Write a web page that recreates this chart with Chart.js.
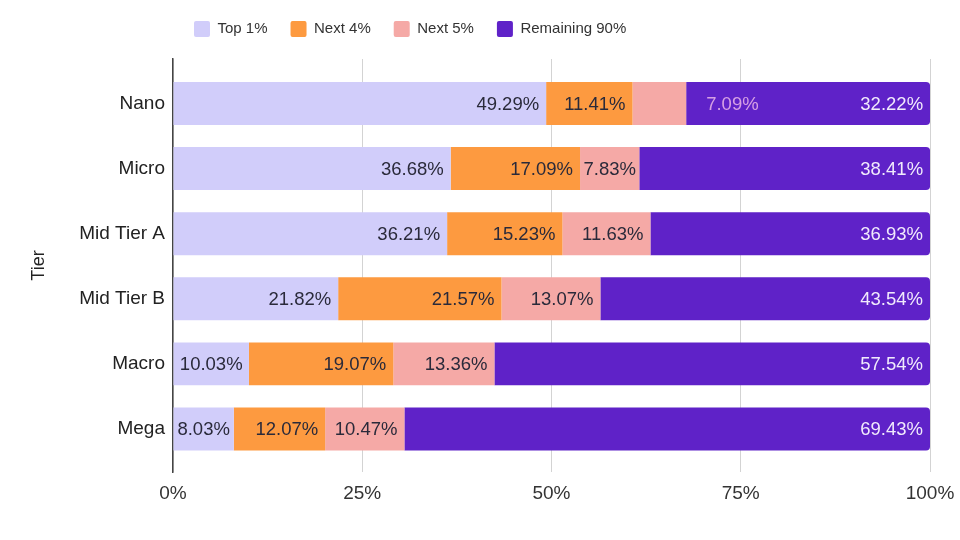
<!DOCTYPE html>
<html>
<head>
<meta charset="utf-8">
<script src="https://cdn.jsdelivr.net/npm/chart.js@4"></script>
<style>
    html, body { margin: 0; padding: 0; background: #fff; }
    #wrap { width: 960px; height: 540px; position: relative; }
</style>
</head>
<body>
<div id="wrap"><canvas id="tier-chart"></canvas></div>
<script>
const tiers = ['Nano', 'Micro', 'Mid Tier A', 'Mid Tier B', 'Macro', 'Mega'];
const seriesNames = ['Top 1%', 'Next 4%', 'Next 5%', 'Remaining 90%'];
const top1 = [49.29, 36.68, 36.21, 21.82, 10.03, 8.03];
const next4 = [11.41, 17.09, 15.23, 21.57, 19.07, 12.07];
const next5 = [7.09, 7.83, 11.63, 13.07, 13.36, 10.47];
const remaining90 = [32.22, 38.41, 36.93, 43.54, 57.54, 69.43];
const xTicks = [0, 25, 50, 75, 100];

const COLORS = ['#d1cdfa', '#fd9a40', '#f5a9a6', '#5f22c8'];
const LABEL_COLORS = ['#2a2a3a', '#2a2a3a', '#2a2a3a', '#f1eafc'];
const OVERFLOW_COLOR = '#d6a0e4';
const FONT = '"Liberation Sans", Arial, sans-serif';

const seriesValues = [top1, next4, next5, remaining90];

// data labels: right aligned inside each segment (centred when tight),
// pushed past the end when the segment is too narrow
const segmentLabels = {
    id: 'segmentLabels',
    afterDatasetsDraw(chart) {
        const ctx = chart.ctx;
        const pad = 7;
        ctx.save();
        ctx.font = '18.5px ' + FONT;
        ctx.textBaseline = 'middle';
        chart.data.datasets.forEach((ds, di) => {
            const meta = chart.getDatasetMeta(di);
            meta.data.forEach((bar, i) => {
                const text = seriesValues[di][i].toFixed(2) + '%';
                const w = ctx.measureText(text).width;
                const spare = (bar.x - bar.base - w) / 2;
                if (spare >= 1.5) {
                    ctx.textAlign = 'right';
                    ctx.fillStyle = LABEL_COLORS[di];
                    ctx.fillText(text, bar.x - Math.min(pad, spare), bar.y + 1);
                } else {
                    ctx.textAlign = 'left';
                    ctx.fillStyle = OVERFLOW_COLOR;
                    ctx.fillText(text, bar.x + 20, bar.y + 1);
                }
            });
        });
        ctx.restore();
    }
};

// legend sits left of centre and closer to the top than the layout gives
const legendShift = {
    id: 'legendShift',
    afterLayout(chart) {
        const lg = chart.legend;
        if (!lg || !lg.lineWidths) return;
        const pad = lg.options.labels.padding;
        const startX = (lg.left + lg.right + pad - lg.lineWidths[0]) / 2;
        const dx = 194 - startX;
        const dy = 21 - (lg.top + pad);
        lg.left += dx;
        lg.right += dx;
        lg.top += dy;
        lg.bottom += dy;
    }
};

const datasets = seriesNames.map((name, di) => ({
    label: name,
    data: seriesValues[di].map((v, i) => ({ x: v, y: i })),
    backgroundColor: COLORS[di],
    borderWidth: 0,
    borderRadius: di === 3 ? 4 : 0,
    categoryPercentage: 1,
    barPercentage: 0.66
}));

new Chart(document.getElementById('tier-chart'), {
    type: 'bar',
    data: { datasets },
    plugins: [segmentLabels, legendShift],
    options: {
        indexAxis: 'y',
        responsive: true,
        maintainAspectRatio: false,
        animation: false,
        layout: { padding: { left: 20, right: 30, top: 10, bottom: 28 } },
        plugins: {
            tooltip: { enabled: false },
            legend: {
                position: 'top',
                labels: {
                    boxWidth: 16,
                    boxHeight: 16,
                    useBorderRadius: true,
                    borderRadius: 2,
                    padding: 23,
                    color: '#333',
                    font: { family: FONT, size: 15 }
                }
            }
        },
        scales: {
            x: {
                stacked: true,
                min: 0,
                max: 100,
                afterBuildTicks: s => { s.ticks = xTicks.map(v => ({ value: v })); },
                afterFit: s => { s.height = 40; s.paddingLeft = 0; s.paddingRight = 0; },
                ticks: {
                    padding: 10,
                    color: '#333',
                    font: { family: FONT, size: 19 },
                    callback: v => v + '%'
                },
                grid: { color: '#d3d3d3', drawTicks: false },
                border: { display: false }
            },
            y: {
                type: 'linear',
                stacked: true,
                reverse: true,
                offset: false,
                min: -0.683,
                max: 5.661,
                afterFit: s => { s.width = 153; },
                ticks: {
                    stepSize: 1,
                    includeBounds: false,
                    autoSkip: false,
                    padding: 8,
                    color: '#222',
                    font: { family: FONT, size: 19 },
                    callback: v => tiers[v] ?? ''
                },
                grid: { display: false, drawTicks: false },
                border: { display: true, color: '#444', width: 1.5 },
                title: {
                    display: true,
                    text: 'Tier',
                    color: '#222',
                    padding: { top: 8, bottom: 0 },
                    font: { family: FONT, size: 18 }
                }
            }
        }
    }
});
</script>
</body>
</html>
